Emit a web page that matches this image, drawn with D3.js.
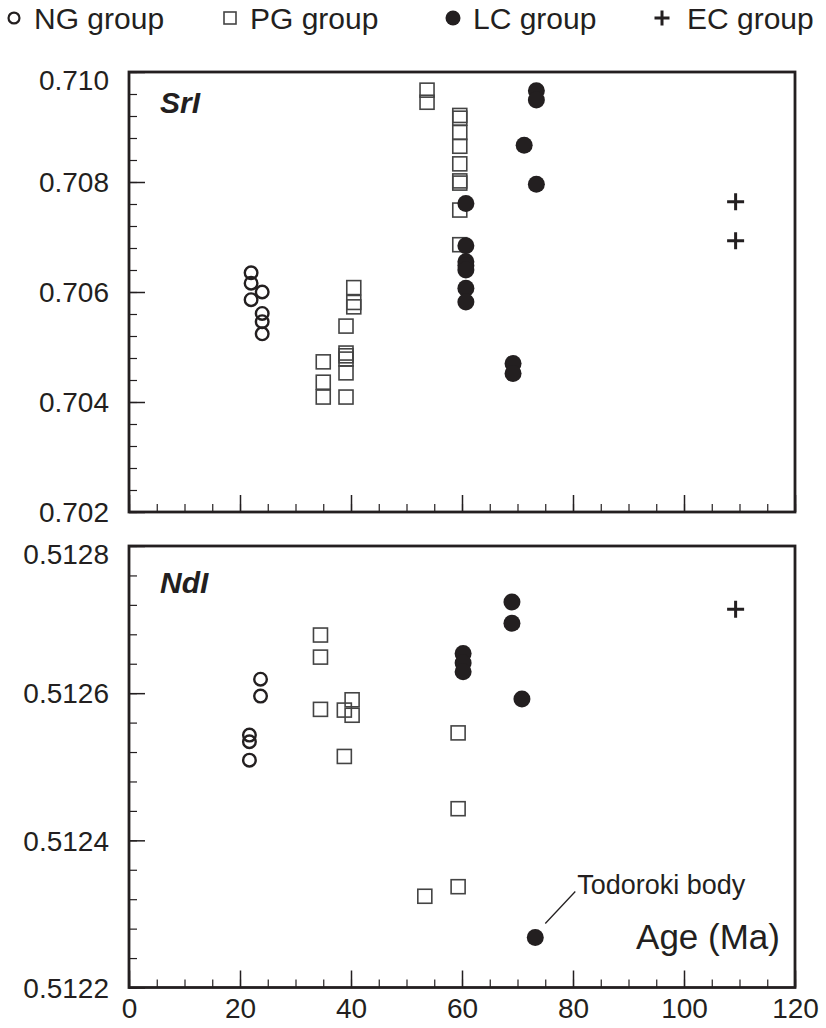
<!DOCTYPE html>
<html>
<head>
<meta charset="utf-8">
<script src="https://cdn.jsdelivr.net/npm/d3@7"></script>
<style>
  body { margin: 0; background: #fff; }
</style>
</head>
<body>
<div id="container"></div>
<script>

  // legend entries
  const groups = ["NG group", "PG group", "LC group", "EC group"];

  // x axis ticks (Ma)
  const ageTicks = [0, 20, 40, 60, 80, 100, 120];

  // SrI panel : [age Ma, initial Sr ratio]
  const ngSr = [[22, 0.70635], [22, 0.70616], [24, 0.70600], [22, 0.70586], [24, 0.70561], [24, 0.70546], [24, 0.70524]];
  const pgSr = [[35, 0.70473], [35, 0.70436], [35, 0.70409],
                [39.1, 0.70538], [39.1, 0.70489], [39.1, 0.70484], [39.1, 0.70478], [39.1, 0.70453], [39.1, 0.70409],
                [40.5, 0.70608], [40.5, 0.70581], [40.5, 0.70573],
                [53.7, 0.70967], [53.7, 0.70945],
                [59.6, 0.70921], [59.6, 0.70916], [59.6, 0.70890], [59.6, 0.70865], [59.6, 0.70833],
                [59.6, 0.70802], [59.6, 0.70798], [59.6, 0.70749], [59.6, 0.70686]];
  const lcSr = [[60.7, 0.70761], [60.7, 0.70684], [60.7, 0.70655], [60.7, 0.70648], [60.7, 0.70640],
                [60.7, 0.70607], [60.7, 0.70582],
                [69.2, 0.70470], [69.2, 0.70452], [71.2, 0.70867],
                [73.4, 0.70966], [73.4, 0.70949], [73.4, 0.70796]];
  const ecSr = [[109.3, 0.70764], [109.3, 0.70693]];
  const srTicks = [0.702, 0.704, 0.706, 0.708, 0.710];

  // NdI panel : [age Ma, initial Nd ratio]
  const ngNd = [[23.7, 0.512619], [23.7, 0.512596], [21.7, 0.512543], [21.7, 0.512534], [21.7, 0.512509]];
  const pgNd = [[34.5, 0.512679], [34.5, 0.512649], [34.5, 0.512578],
                [38.8, 0.512577], [40.2, 0.512591], [40.2, 0.512570], [38.8, 0.512514],
                [59.3, 0.512546], [59.3, 0.512443], [59.3, 0.512337], [53.3, 0.512324]];
  const lcNd = [[69.0, 0.512724], [69.0, 0.512695], [60.2, 0.512654], [60.2, 0.512641], [60.2, 0.512629],
                [70.8, 0.512592], [73.2, 0.512268]];
  const ecNd = [[109.3, 0.512714]];
  const ndTicks = [0.5122, 0.5124, 0.5126, 0.5128];

  const width = 826, height = 1028;
  const ink = "#231f20";
  const font = "'Liberation Sans', Arial, sans-serif";

  const svg = d3.select("#container").append("svg")
      .attr("width", width)
      .attr("height", height);

  const x = d3.scaleLinear().domain([0, 120]).range([129, 795]);
  const ySr = d3.scaleLinear().domain([0.702, 0.710]).range([512, 72]);
  const yNd = d3.scaleLinear().domain([0.5122, 0.5128]).range([987.5, 546]);

  // draw one marker
  function marker(g, kind, cx, cy, s) {
    if (kind === "NG") {
      g.append("circle").attr("cx", cx).attr("cy", cy).attr("r", s * 0.42)
        .attr("fill", "none").attr("stroke", ink).attr("stroke-width", Math.max(2.2, s * 0.16));
    } else if (kind === "PG") {
      g.append("rect").attr("x", cx - s / 2).attr("y", cy - s / 2)
        .attr("width", s).attr("height", s)
        .attr("fill", "none").attr("stroke", "#444").attr("stroke-width", 1.6);
    } else if (kind === "LC") {
      g.append("circle").attr("cx", cx).attr("cy", cy).attr("r", s * 0.5).attr("fill", ink);
    } else {
      g.append("path")
        .attr("d", `M${cx - s / 2},${cy}H${cx + s / 2}M${cx},${cy - s / 2}V${cy + s / 2}`)
        .attr("stroke", ink).attr("stroke-width", 3);
    }
  }

  function panel(y, major, minorStep, series, label, labelY, fmt) {
    const g = svg.append("g");
    const [d0, d1] = y.domain();

    // minor y ticks
    const nMinor = Math.round((d1 - d0) / minorStep);
    const minor = d3.range(nMinor + 1).map(i => d0 + i * minorStep);
    g.append("g")
      .attr("transform", `translate(${x.range()[0]},0)`)
      .call(d3.axisLeft(y).tickValues(minor).tickSize(-8).tickFormat(""))
      .call(a => a.select(".domain").remove())
      .call(a => a.selectAll("line").attr("stroke", ink).attr("stroke-width", 1.2));

    // major y ticks + labels
    g.append("g")
      .attr("transform", `translate(${x.range()[0]},0)`)
      .call(d3.axisLeft(y).tickValues(major).tickSize(-16).tickPadding(20).tickFormat(fmt))
      .call(a => a.select(".domain").remove())
      .call(a => a.selectAll("line").attr("stroke", ink).attr("stroke-width", 1.5))
      .call(a => a.selectAll("text")
        .attr("font-family", font).attr("font-size", 28).attr("fill", ink)
        .attr("dy", d => d === d1 ? "0.62em" : "0.35em"));

    // x ticks on the bottom edge
    const yb = y.range()[0];
    g.append("g")
      .attr("transform", `translate(0,${yb})`)
      .call(d3.axisBottom(x).tickValues(d3.range(0, 121, 5)).tickSize(-8).tickFormat(""))
      .call(a => a.select(".domain").remove())
      .call(a => a.selectAll("line").attr("stroke", ink).attr("stroke-width", 1.2));
    g.append("g")
      .attr("transform", `translate(0,${yb})`)
      .call(d3.axisBottom(x).tickValues(ageTicks).tickSize(-17).tickFormat(""))
      .call(a => a.select(".domain").remove())
      .call(a => a.selectAll("line").attr("stroke", ink).attr("stroke-width", 1.5));

    // frame
    g.append("rect")
      .attr("x", x.range()[0]).attr("y", y.range()[1])
      .attr("width", x.range()[1] - x.range()[0])
      .attr("height", y.range()[0] - y.range()[1])
      .attr("fill", "none").attr("stroke", ink).attr("stroke-width", 2.8);

    // points
    const pts = g.append("g");
    series.forEach(([kind, data, size]) => {
      data.forEach(d => marker(pts, kind, x(d[0]), y(d[1]), size));
    });

    // panel label
    g.append("text")
      .attr("x", 160).attr("y", labelY)
      .attr("font-family", font).attr("font-size", 30)
      .attr("font-weight", "bold").attr("font-style", "italic")
      .attr("fill", ink)
      .text(label);
    return g;
  }

  panel(ySr, srTicks, 0.0004,
    [["PG", pgSr, 14], ["LC", lcSr, 17], ["NG", ngSr, 15], ["EC", ecSr, 17]],
    "SrI", 113, d3.format(".3f"));

  panel(yNd, ndTicks, 0.00004,
    [["PG", pgNd, 14], ["LC", lcNd, 17], ["NG", ngNd, 15], ["EC", ecNd, 17]],
    "NdI", 593, d3.format(".4f"));

  // x tick labels under the bottom panel
  svg.append("g")
    .attr("transform", `translate(0,${yNd.range()[0]})`)
    .call(d3.axisBottom(x).tickValues(ageTicks).tickSize(0).tickPadding(11))
    .call(a => a.select(".domain").remove())
    .call(a => a.selectAll("text")
      .attr("font-family", font).attr("font-size", 28).attr("fill", ink));

  // axis title inside the panel
  svg.append("text")
    .attr("x", 780).attr("y", 949)
    .attr("text-anchor", "end")
    .attr("font-family", font).attr("font-size", 35).attr("fill", ink)
    .text("Age (Ma)");

  // Todoroki body annotation
  const tod = lcNd[lcNd.length - 1];
  const tx = x(tod[0]), ty = yNd(tod[1]);
  svg.append("line")
    .attr("x1", tx + 10).attr("y1", ty - 14)
    .attr("x2", tx + 40).attr("y2", ty - 46)
    .attr("stroke", ink).attr("stroke-width", 1.3);
  svg.append("text")
    .attr("x", tx + 42).attr("y", ty - 43)
    .attr("font-family", font).attr("font-size", 27).attr("fill", ink)
    .text("Todoroki body");

  // legend
  const legendX = [14, 230, 453, 662];
  const kinds = ["NG", "PG", "LC", "EC"];
  const sizes = [13, 12, 15, 15];
  const legend = svg.append("g");
  groups.forEach((name, i) => {
    marker(legend, kinds[i], legendX[i], 18, sizes[i]);
    legend.append("text")
      .attr("x", legendX[i] + (i === 3 ? 25 : 20))
      .attr("y", 29)
      .attr("font-family", font).attr("font-size", 30).attr("fill", ink)
      .text(name);
  });

</script>
</body>
</html>
